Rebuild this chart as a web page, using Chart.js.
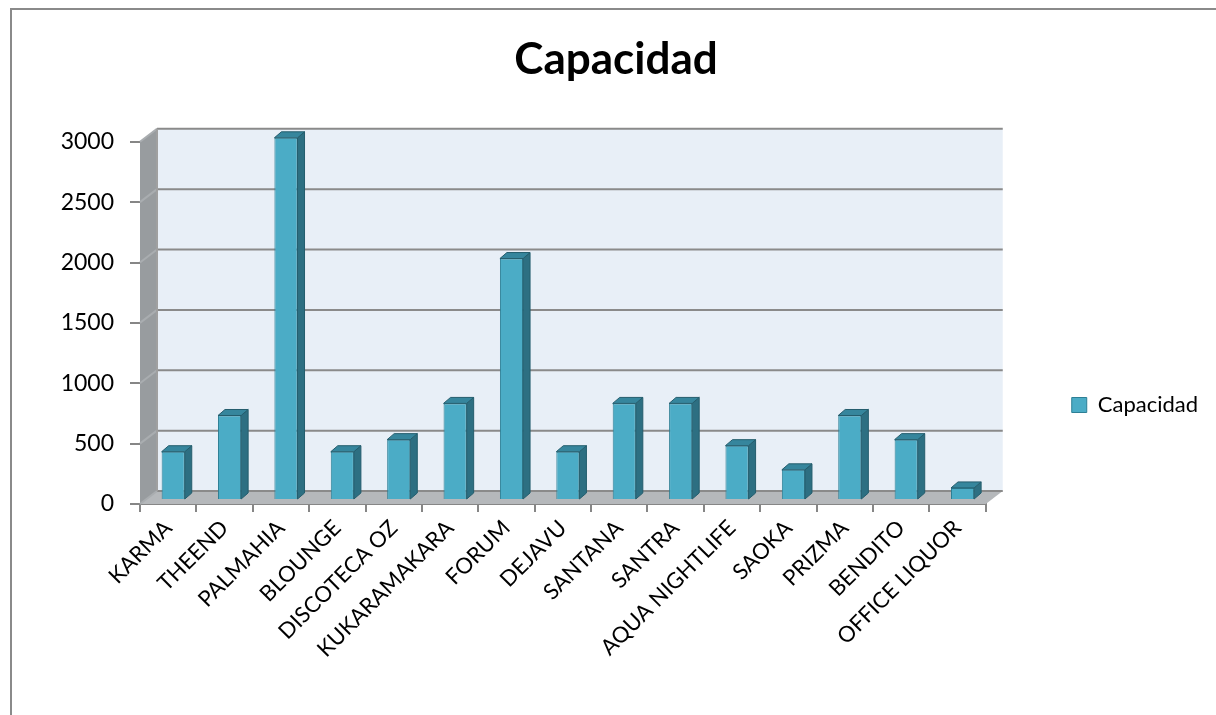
<!DOCTYPE html>
<html lang="es">
  <head>
    <meta charset="UTF-8" />
    <title>Capacidad</title>
    <style>
      html, body { margin: 0; padding: 0; background: #fff; overflow: hidden; }
      .chart-view { width: 1216px; height: 715px; }
    </style>
  </head>
  <body>
    <div class="chart-view">
      <canvas id="chart"></canvas>
    </div>

    <script src="https://cdn.jsdelivr.net/npm/chart.js@4.4.1/dist/chart.umd.min.js"></script>

    <script>
      //data
      const categories = ['KARMA', 'THEEND', 'PALMAHIA', 'BLOUNGE', 'DISCOTECA OZ', 'KUKARAMAKARA', 'FORUM', 'DEJAVU',
        'SANTANA', 'SANTRA', 'AQUA NIGHTLIFE', 'SAOKA', 'PRIZMA', 'BENDITO', 'OFFICE LIQUOR'];
      const capacidad = [400, 700, 3000, 400, 500, 800, 2000, 400, 800, 800, 450, 250, 700, 500, 100];
      const yTicks = [0, 500, 1000, 1500, 2000, 2500, 3000];

      const FONT = 'Lato, "Open Sans", sans-serif';
      const DEPTH_X = 17, DEPTH_Y = 13;   // wall depth
      const BAR_DX = 7, BAR_DY = 6;       // column depth
      const SHIFT_X = 5, SHIFT_Y = 4;     // columns sit a bit into the floor

      // white page + frame of the excel chart
      const framePlugin = {
        id: 'frame',
        beforeDraw(chart) {
          const c = chart.ctx;
          c.save();
          c.fillStyle = '#fff';
          c.fillRect(0, 0, chart.width, chart.height);
          c.strokeStyle = '#8a8a8a';
          c.lineWidth = 2;
          c.strokeRect(11, 9, chart.width + 20, chart.height + 20);
          c.restore();
        }
      };

      // back wall, side wall and floor
      const wallsPlugin = {
        id: 'walls',
        beforeDatasetsDraw(chart) {
          const c = chart.ctx;
          const { left, right, top, bottom } = chart.chartArea;
          const y = chart.scales.y;
          c.save();
          // back wall
          c.fillStyle = '#e8eff7';
          c.fillRect(left + DEPTH_X, top - DEPTH_Y, right - left, bottom - top);
          // side wall
          c.fillStyle = '#989c9f';
          c.beginPath();
          c.moveTo(left, top);
          c.lineTo(left + DEPTH_X, top - DEPTH_Y);
          c.lineTo(left + DEPTH_X, bottom - DEPTH_Y);
          c.lineTo(left, bottom);
          c.closePath();
          c.fill();
          // floor
          c.fillStyle = '#b5b8bb';
          c.beginPath();
          c.moveTo(left, bottom);
          c.lineTo(left + DEPTH_X, bottom - DEPTH_Y);
          c.lineTo(right + DEPTH_X, bottom - DEPTH_Y);
          c.lineTo(right, bottom);
          c.closePath();
          c.fill();
          // gridlines
          c.lineWidth = 2;
          yTicks.forEach((v) => {
            const py = y.getPixelForValue(v);
            c.strokeStyle = '#8a8a8a';
            c.beginPath();
            c.moveTo(left + DEPTH_X, py - DEPTH_Y);
            c.lineTo(right + DEPTH_X, py - DEPTH_Y);
            c.stroke();
            c.strokeStyle = '#a9adb0';
            c.beginPath();
            c.moveTo(left, py);
            c.lineTo(left + DEPTH_X, py - DEPTH_Y);
            c.stroke();
          });
          c.strokeStyle = '#a0a0a0';
          c.beginPath();
          c.moveTo(left + DEPTH_X, bottom - DEPTH_Y);
          c.lineTo(left + DEPTH_X, top - DEPTH_Y);
          c.stroke();
          c.restore();

          c.save();
          c.translate(SHIFT_X, -SHIFT_Y);
        },
        afterDatasetsDraw(chart) {
          const c = chart.ctx;
          const meta = chart.getDatasetMeta(0);
          meta.data.forEach((bar) => {
            const { x, y, base, width } = bar.getProps(['x', 'y', 'base', 'width'], true);
            const l = x - width / 2, r = x + width / 2;
            // side face
            c.fillStyle = '#2d6f82';
            c.strokeStyle = '#245d6d';
            c.lineWidth = 1;
            c.beginPath();
            c.moveTo(r, y);
            c.lineTo(r + BAR_DX, y - BAR_DY);
            c.lineTo(r + BAR_DX, base - BAR_DY);
            c.lineTo(r, base);
            c.closePath();
            c.fill();
            c.stroke();
            // top face
            c.fillStyle = '#36869d';
            c.beginPath();
            c.moveTo(l, y);
            c.lineTo(l + BAR_DX, y - BAR_DY);
            c.lineTo(r + BAR_DX, y - BAR_DY);
            c.lineTo(r, y);
            c.closePath();
            c.fill();
            c.stroke();
          });
          c.restore();
        }
      };

      //config
      const config = {
        type: 'bar',
        data: {
          labels: categories,
          datasets: [
            {
              label: 'Capacidad',
              data: capacidad,
              backgroundColor: '#4bacc6',
              borderColor: '#2d7f95',
              borderWidth: 1,
              barPercentage: 0.41,
              categoryPercentage: 1,
              clip: false
            }
          ]
        },
        options: {
          responsive: true,
          maintainAspectRatio: false,
          animation: false,
          layout: { padding: { left: 24, right: 8, top: 0, bottom: -95 } },
          plugins: {
            title: {
              display: true,
              text: 'Capacidad',
              color: '#000',
              font: { family: FONT, size: 44, weight: 'bold' },
              padding: { top: 33, bottom: 56 }
            },
            legend: {
              position: 'right',
              labels: {
                color: '#000',
                font: { family: FONT, size: 22 },
                boxWidth: 15,
                boxHeight: 15,
                padding: 86
              }
            },
            tooltip: { enabled: false }
          },
          scales: {
            x: {
              grid: { offset: true, drawOnChartArea: false, tickLength: 8, color: '#868686', lineWidth: 2 },
              border: { display: true, color: '#868686', width: 2 },
              ticks: {
                color: '#000',
                font: { family: FONT, size: 22 },
                autoSkip: false,
                minRotation: 45,
                maxRotation: 45,
                padding: 3
              },
              afterFit(scale) { scale.height = 306; }
            },
            y: {
              min: 0,
              max: 3000,
              grid: { drawOnChartArea: false, tickLength: 10, color: '#868686', lineWidth: 2 },
              border: { display: false },
              ticks: {
                stepSize: 500,
                color: '#000',
                font: { family: FONT, size: 23 },
                padding: 16,
                callback: (v) => String(v)
              },
              afterFit(scale) { scale.width = 116; }
            }
          }
        },
        plugins: [framePlugin, wallsPlugin]
      };

      //init
      const ctx = document.getElementById('chart');
      const chart = new Chart(ctx, config);
    </script>
  </body>
</html>
